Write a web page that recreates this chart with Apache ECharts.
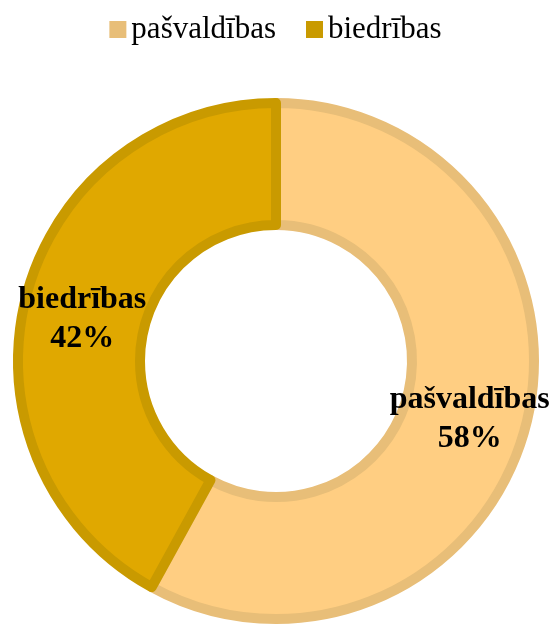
<!DOCTYPE html>
<html>
<head>
<meta charset="utf-8">
<script src="https://cdn.jsdelivr.net/npm/echarts@6/dist/echarts.min.js"></script>
<style>
  html, body { margin: 0; padding: 0; background: #fff; }
  #chart { width: 551px; height: 624px; }
</style>
</head>
<body>
<div id="chart"></div>
<script>
  // 数据
  var categories = ['pašvaldības', 'biedrības']
  var shares = [58, 42]
  var fillColors = ['#FFCE82', '#E0A800']
  var edgeColors = ['#E8BE78', '#C99A00']

  var chart = echarts.init(document.getElementById('chart'))

  var pieData = categories.map(function(name, i){
    return {
      name: name,
      value: shares[i],
      itemStyle: { color: fillColors[i], borderColor: edgeColors[i], borderWidth: 10 }
    }
  })

  var option = {
    animation: false,
    legend: {
      top: 9,
      left: 'center',
      itemWidth: 17,
      itemHeight: 17,
      itemGap: 30,
      icon: 'rect',
      data: categories.map(function(name, i){
        return { name: name, itemStyle: { color: edgeColors[i], borderWidth: 0 } }
      }),
      textStyle: { fontFamily: 'Liberation Serif', fontSize: 31, color: '#000' }
    },
    series: [
      {
        type: 'pie',
        center: [276, 361],
        radius: [136, 258],
        startAngle: 90,
        clockwise: true,
        label: {
          position: 'inside',
          formatter: '{b}\n{d}%',
          fontFamily: 'Liberation Serif',
          fontWeight: 'bold',
          fontSize: 32,
          lineHeight: 39,
          offset: [0, 8],
          color: '#000'
        },
        labelLine: { show: false },
        emphasis: { disabled: true },
        data: pieData
      }
    ]
  }

  chart.setOption(option)
</script>
</body>
</html>
